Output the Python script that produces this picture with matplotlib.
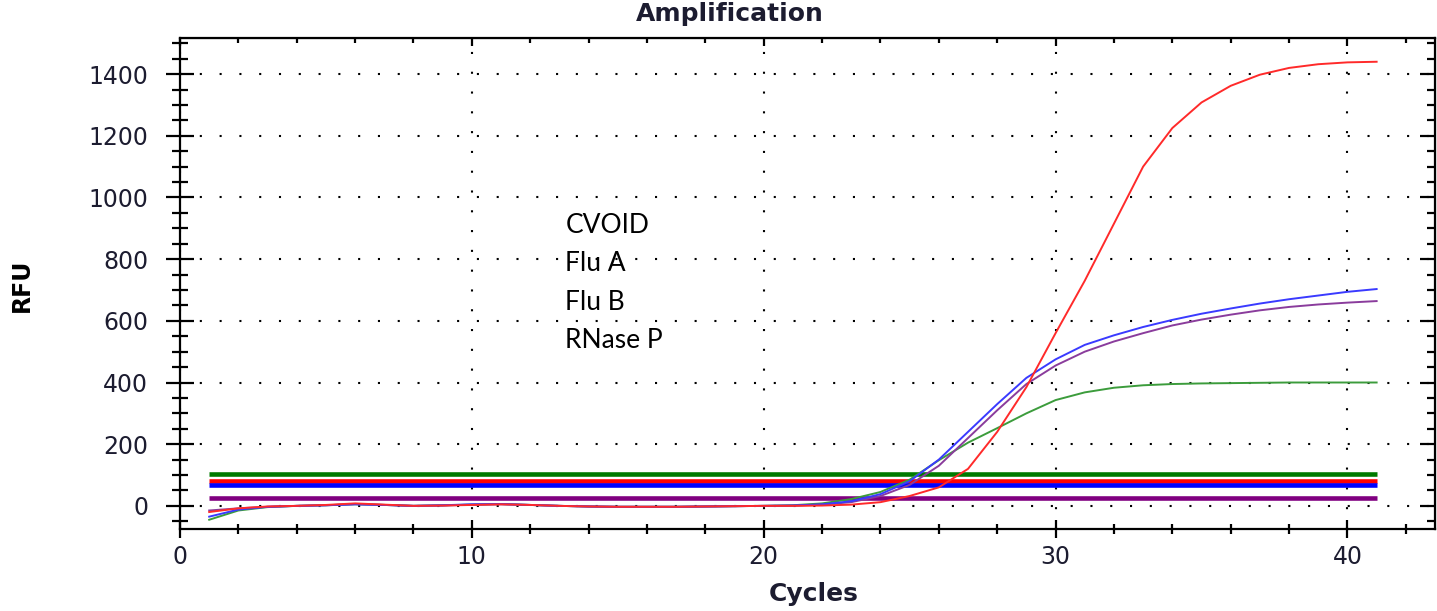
import numpy as np
import matplotlib
matplotlib.use("Agg")
from matplotlib import pyplot as plt
from matplotlib.ticker import MultipleLocator

# amplification curves, RFU per cycle (cycles 1..41)
cycles = np.arange(1, 42)

red_rfu = [-20, -8, -2, 0, 3, 8, 4, 0, 1, 3, 5, 3, 0, -2, -3, -3, -3, -2, -1, 0, 0,
           1, 4, 12, 32, 60, 120, 240, 385, 560, 730, 915, 1100, 1225, 1308, 1362,
           1398, 1420, 1432, 1438, 1440]
blue_rfu = [-35, -12, -3, 0, 2, 5, 3, 0, 2, 5, 6, 3, 0, -2, -3, -3, -3, -2, -1, 0, 1,
            5, 15, 38, 80, 150, 240, 330, 415, 475, 522, 553, 580, 603, 623, 640,
            656, 670, 682, 694, 703]
purple_rfu = [-15, -8, -3, 0, 2, 6, 3, 0, 1, 4, 5, 3, 0, -2, -3, -3, -3, -2, -1, 0, 1,
              4, 12, 32, 68, 130, 220, 310, 395, 455, 500, 533, 560, 585, 604, 620,
              634, 645, 653, 659, 664]
green_rfu = [-45, -15, -4, 0, 2, 5, 3, 0, 2, 4, 6, 3, 0, -2, -3, -3, -3, -2, -1, 0, 2,
             8, 22, 45, 85, 148, 205, 252, 300, 343, 368, 383, 391, 395, 397, 398,
             399, 400, 400, 400, 400]

# threshold lines
thresh_cycles = [1, 41]
thresholds = {"green": 104, "red": 82, "blue": 68, "purple": 26}

targets = ["CVOID", "Flu A", "Flu B", "RNase P"]

fig = plt.figure(figsize=(14.37, 6.11), dpi=100)
ax = fig.add_axes([180 / 1437, 1 - 529 / 611, (1435 - 180) / 1437, (529 - 38) / 611])

bar_cols = {"green": "#007a00", "red": "#ff0000", "blue": "#0000ff", "purple": "#800080"}
for k, v in thresholds.items():
    ax.plot(thresh_cycles, [v, v], color=bar_cols[k], lw=3.3, solid_capstyle="butt", zorder=2)

ax.plot(cycles, green_rfu, color="#3c9c3c", lw=1.4, zorder=3)
ax.plot(cycles, purple_rfu, color="#8a3c9c", lw=1.4, zorder=3)
ax.plot(cycles, blue_rfu, color="#3a3aff", lw=1.4, zorder=3)
ax.plot(cycles, red_rfu, color="#ff2a2a", lw=1.4, zorder=3)

ax.set_xlim(0, 43)
ax.set_ylim(-75, 1517)

ax.xaxis.set_major_locator(MultipleLocator(10))
ax.xaxis.set_minor_locator(MultipleLocator(2))
ax.yaxis.set_major_locator(MultipleLocator(200))
ax.yaxis.set_minor_locator(MultipleLocator(50))

ax.grid(True, which="major", color="black", lw=1.5, linestyle=(0, (1, 8.5)))

for s in ax.spines.values():
    s.set_linewidth(1.6)

tick_col = "#1c1c30"
ax.tick_params(axis="x", which="major", direction="inout", length=13, width=1.6,
               labelsize=17, pad=5, labelcolor=tick_col)
ax.tick_params(axis="x", which="minor", direction="inout", length=7, width=1.6)
ax.tick_params(axis="y", which="major", direction="inout", length=20, width=1.6,
               labelsize=17, pad=13, labelcolor=tick_col)
ax.tick_params(axis="y", which="minor", direction="inout", length=12, width=1.6)

# inward ticks on top and right
top = ax.secondary_xaxis("top")
top.xaxis.set_major_locator(MultipleLocator(10))
top.xaxis.set_minor_locator(MultipleLocator(2))
top.tick_params(which="major", direction="in", length=6, width=1.6, labeltop=False)
top.tick_params(which="minor", direction="in", length=3.5, width=1.6)
right = ax.secondary_yaxis("right")
right.yaxis.set_major_locator(MultipleLocator(200))
right.yaxis.set_minor_locator(MultipleLocator(50))
right.tick_params(which="major", direction="in", length=11, width=1.6, labelright=False)
right.tick_params(which="minor", direction="in", length=6, width=1.6)

# target names
label_y = [885, 761, 635, 512]
for name, yy in zip(targets, label_y):
    ax.text(13.2, yy, name, fontsize=19, family="Lato", va="baseline", ha="left", color="black")

fig.text(730 / 1437, 1 - 21 / 611, "Amplification", ha="center", va="baseline",
         fontsize=18, fontweight="bold", color=tick_col)
fig.text(814 / 1437, 1 - 601 / 611, "Cycles", ha="center", va="baseline",
         fontsize=18, fontweight="bold", color=tick_col)
fig.text(22 / 1437, 1 - 285 / 611, "RFU", ha="center", va="center", rotation=90,
         fontsize=17, fontweight="bold", color="black")

fig.savefig("out.png", dpi=100, facecolor="white")
